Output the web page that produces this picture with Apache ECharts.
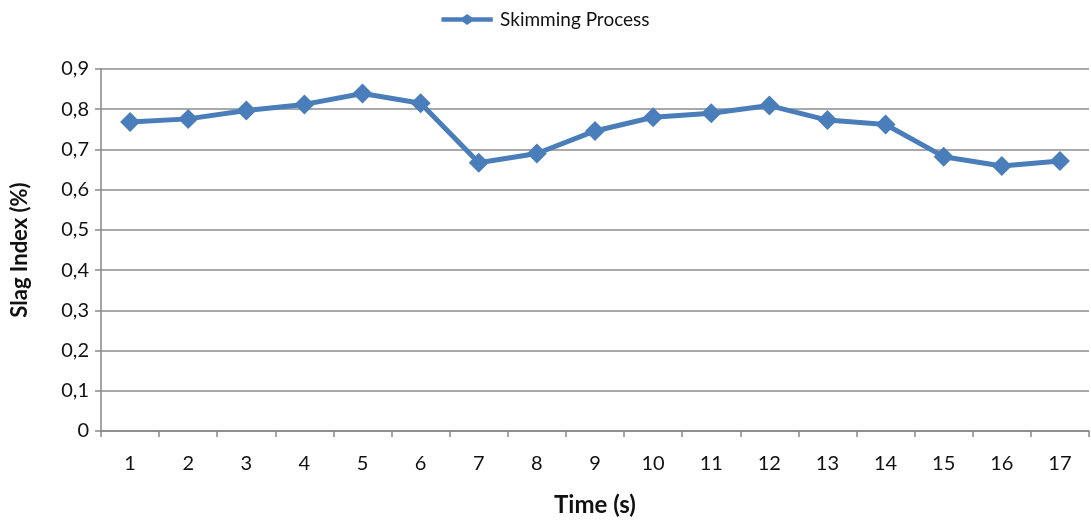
<!DOCTYPE html>
<html>
<head>
<meta charset="utf-8">
<script src="https://cdn.jsdelivr.net/npm/echarts@6/dist/echarts.min.js"></script>
<style>html,body{margin:0;padding:0;background:#fff}#c{width:1091px;height:522px}</style>
</head>
<body>
<div id="c"></div>
<script>
const categories = ['1','2','3','4','5','6','7','8','9','10','11','12','13','14','15','16','17'];
const skimming = [0.768,0.776,0.797,0.812,0.839,0.815,0.667,0.690,0.746,0.780,0.790,0.809,0.773,0.762,0.682,0.659,0.671];
const yTicks = [0,0.1,0.2,0.3,0.4,0.5,0.6,0.7,0.8,0.9];

const font = 'Lato, "Open Sans", sans-serif';
const chart = echarts.init(document.getElementById('c'));
chart.setOption({
  animation: false,
  textStyle: {fontFamily: font},
  legend: {
    top: 5, left: 'center',
    itemWidth: 56, itemHeight: 11, itemGap: 6,
    textStyle: {fontSize: 19, color: '#111', fontFamily: font},
    data: [{name: 'Skimming Process', icon: 'path://M0,3.5 L23,3.5 L28,0 L33,3.5 L56,3.5 L56,8.5 L33,8.5 L28,12 L23,8.5 L0,8.5 Z'}]
  },
  grid: {left: 101, right: 2, top: 69, bottom: 87},
  xAxis: {
    type: 'category', data: categories, boundaryGap: true,
    name: 'Time (s)', nameLocation: 'middle', nameGap: 62,
    nameTextStyle: {fontSize: 24, fontWeight: 'bold', color: '#111', fontFamily: font},
    axisLine: {lineStyle: {color: '#888', width: 1.5}},
    axisTick: {show: true, alignWithLabel: false, length: 6, lineStyle: {color: '#888', width: 1.5}},
    axisLabel: {fontSize: 20, color: '#111', margin: 23, fontFamily: font}
  },
  yAxis: {
    type: 'value', min: 0, max: 0.9, interval: 0.1,
    name: 'Slag Index (%)', nameLocation: 'middle', nameGap: 70, nameRotate: 90,
    nameTextStyle: {fontSize: 22, fontWeight: 'bold', color: '#111', fontFamily: font},
    axisLine: {show: true, lineStyle: {color: '#888', width: 1.5}},
    axisTick: {show: true, length: 6, lineStyle: {color: '#888', width: 1.5}},
    splitLine: {lineStyle: {color: '#8c8c8c', width: 1.5}},
    axisLabel: {fontSize: 20, color: '#111', margin: 12, fontFamily: font,
      formatter: v => {
        const t = yTicks.find(x => Math.abs(x - v) < 1e-9);
        const s = (t === undefined ? v : t);
        return s === 0 ? '0' : s.toFixed(1).replace('.', ',');
      }}
  },
  series: [{
    name: 'Skimming Process', type: 'line', data: skimming,
    symbol: 'diamond', symbolSize: 20,
    lineStyle: {color: '#4a7ebb', width: 5},
    itemStyle: {color: '#4a7ebb'}
  }]
});
</script>
</body>
</html>
